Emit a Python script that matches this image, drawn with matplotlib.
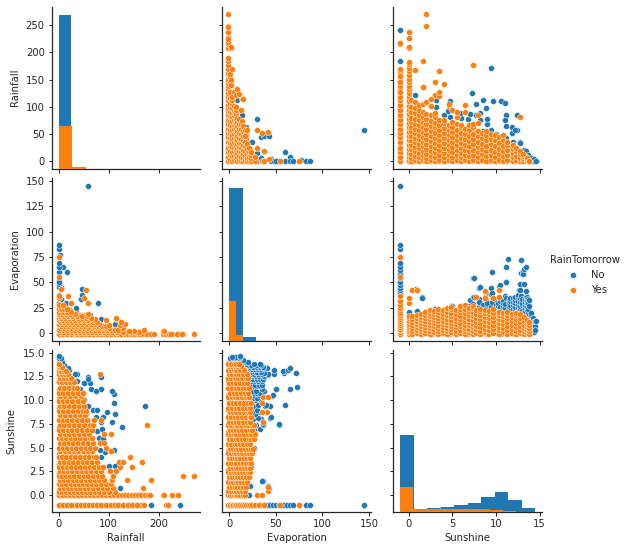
import matplotlib
matplotlib.use("Agg")
import matplotlib.pyplot as plt

BLUE = "#1f77b4"
ORANGE = "#ff7f0e"

# limits are the same for a variable in its row and its column
limits = {"Rainfall": (-13.5, 283.5), "Evaporation": (-7.25, 152.25), "Sunshine": (-1.775, 15.275)}
ticks = {
    "Rainfall": ([0, 50, 100, 150, 200, 250], [0, 100, 200]),
    "Evaporation": ([0, 25, 50, 75, 100, 125, 150], [0, 50, 100, 150]),
    "Sunshine": ([0, 2.5, 5, 7.5, 10, 12.5, 15], [0, 5, 10, 15]),
}
columns = ["Rainfall", "Evaporation", "Sunshine"]

# histogram counts (bars per class, 10 bins over the class range)
hist_range = {
    "Rainfall": {"No": (0, 241), "Yes": (0, 270)},
    "Evaporation": {"No": (0, 145), "Yes": (0, 75)},
    "Sunshine": {"No": (-1, 14.5), "Yes": (-1, 13.8)},
}
hist_no = {
    "Rainfall": [4940, 30, 0, 0, 0, 0, 0, 0, 0, 0],
    "Evaporation": [4875, 106, 0, 0, 0, 0, 0, 0, 0, 0],
    "Sunshine": [2464, 96, 128, 160, 224, 288, 480, 640, 384, 128],
}
hist_yes = {
    "Rainfall": [1355, 42, 0, 0, 0, 0, 0, 0, 0, 0],
    "Evaporation": [1258, 170, 0, 0, 0, 0, 0, 0, 0, 0],
    "Sunshine": [800, 96, 96, 96, 96, 96, 96, 75, 32, 0],
}

# Rainfall by Evaporation, rows are evaporation: rainfall values
rain_evap_yes = {
    -1: [0, 8, 16, 24, 36, 44, 52, 60, 68, 76, 84, 92, 97, 104, 112, 118, 125, 132, 138, 144, 150, 158, 162, 170,
         176, 185, 190, 208, 215, 220, 228, 238, 248, 224, 237, 246, 270],
    1: [3, 11, 19, 27, 34, 43, 51, 58, 66, 74, 83, 91, 99, 107, 116, 128, 145, 155, 160],
    2: [208, 210, 150, 140],
    3: [1, 9, 17, 26, 33, 41, 49, 57, 65, 73, 81, 89, 97, 105, 112, 118, 170],
    5: [2, 10, 18, 25, 35, 42, 50, 59, 67, 75, 84, 92, 101, 128],
    6: [71, 89],
    7: [4, 12, 20, 28, 37, 44, 53, 61, 70, 78, 86, 95],
    8: [100, 122],
    9: [0, 7, 15, 23, 31, 39, 47, 56, 64, 72, 80, 133],
    11: [3, 10, 18, 26, 34, 42, 51, 60, 69, 77, 124],
    13: [1, 8, 16, 24, 33, 41, 50, 59, 68, 94],
    14: [73, 115],
    15: [0, 5, 13, 21, 29, 38, 47, 55, 64, 114],
    17: [2, 9, 18, 27, 36, 46, 57],
    19: [0, 6, 14, 23, 32, 58],
    21: [1, 8, 16, 25],
    24: [0, 5, 11, 16],
    28: [0, 8],
    30: [24, 58],
    35: [51, 0],
    37: [18, 0],
    42: [54],
    43: [4],
    55: [0],
    75: [0],
}
rain_evap_yes_fill = {
    -1: [4, 12, 20, 28, 32, 40, 48, 56, 64, 72, 80, 88, 100, 108, 115, 122, 128, 135],
    0: [2, 6, 10, 14, 18, 22, 26, 30, 34, 38, 42, 46, 50, 54, 58, 62, 66, 70, 74, 78, 82, 86, 90, 94, 98, 102, 106,
        110, 114, 120, 125, 130],
    2: [5, 13, 21, 30, 38, 46, 54, 62, 70, 78, 86, 95, 103, 110],
    4: [1, 7, 15, 23, 31, 39, 47, 55, 63, 71, 79, 87, 94, 100],
    6: [3, 9, 16, 24, 32, 40, 48, 56, 64, 72, 80, 88],
    8: [1, 6, 13, 21, 29, 37, 45, 53, 61, 69, 77, 84],
    10: [4, 11, 19, 27, 35, 43, 51, 59, 67, 75],
    12: [1, 6, 14, 22, 30, 38, 46, 55, 63],
    14: [3, 10, 19, 28, 36, 44, 52, 60],
    16: [0, 7, 15, 24, 33, 42, 50],
    18: [4, 12, 21, 30, 40, 48],
    20: [2, 10, 19, 28],
    23: [3, 9, 14, 22],
}
rain_evap_no = {
    -1: [0, 12, 28, 45, 70, 95, 120, 150, 182, 218, 239],
    0: [50, 80, 110, 140],
    4: [0, 30, 60, 90, 112],
    9: [15, 50, 113],
    14: [5, 30, 60, 85],
    18: [10, 40, 62],
    21: [0, 20, 35],
    25: [0, 12, 35],
    30: [0, 15, 78],
    34: [44, 5],
    38: [46, 0],
    43: [46],
    45: [4, 0],
    48: [0],
    52: [0],
    60: [16, 0],
    65: [8, 0],
    69: [0],
    77: [3],
    83: [0],
    87: [0],
    145: [58],
    50: [0],
}

# Rainfall by Sunshine, rows are sunshine: rainfall values
rain_sun_yes = {
    -1: [0, 8, 16, 24, 36, 44, 52, 60, 68, 76, 84, 94, 104, 112, 118, 128, 138, 146, 158, 163, 170, 157, 215, 218],
    0: [0, 7, 15, 22, 30, 38, 46, 54, 62, 70, 78, 86, 94, 102, 110, 118, 126, 132, 139, 146, 152, 158, 165, 172,
        178, 182, 208, 210, 226, 238],
    0.3: [0, 6, 14, 22, 30, 38, 47, 55, 63, 72, 80, 90, 100, 112],
    0.7: [3, 10, 18, 26, 35, 43, 52, 60, 69, 78, 88, 97, 109, 168],
    1.2: [0, 7, 15, 24, 32, 40, 49, 57, 66, 75, 85, 94, 104],
    1.6: [2, 11, 19, 28, 36, 45, 54, 62, 72, 81, 91, 106, 137, 184],
    2: [0, 6, 14, 23, 31, 41, 50, 59, 68, 78, 87, 109, 248, 270],
    2.5: [3, 10, 19, 27, 37, 46, 55, 65, 74, 84, 102, 115],
    3: [0, 8, 16, 25, 34, 43, 52, 62, 71, 81, 88, 122, 146],
    3.5: [2, 11, 20, 29, 38, 48, 57, 66, 76, 120, 128, 166],
    4: [0, 7, 15, 24, 33, 42, 52, 61, 70, 75, 142],
    4.6: [3, 12, 21, 30, 39, 49, 58, 66, 102, 105],
    5: [0, 8, 17, 26, 35, 45, 54, 63, 72, 95],
    5.5: [2, 11, 20, 29, 39, 48, 58, 68, 82, 91],
    6: [0, 7, 15, 24, 33, 43, 52, 62, 67],
    6.4: [3, 12, 21, 30, 40, 50, 60, 91, 104],
    6.9: [0, 9, 18, 27, 37, 47, 57, 67],
    7.4: [2, 11, 21, 31, 40, 50, 62, 69, 176],
    7.9: [0, 8, 17, 26, 36, 46, 56, 71, 84],
    8.4: [3, 13, 22, 32, 42, 52],
    8.9: [0, 9, 18, 28, 38, 48, 55],
    9.4: [2, 11, 21, 31, 41, 50],
    9.9: [0, 8, 17, 27, 38, 49],
    10.4: [3, 13, 23, 33, 44],
    10.8: [0, 9, 18, 28, 38, 49],
    11.3: [2, 11, 20, 30, 36],
    11.9: [0, 7, 15, 22, 30],
    12.3: [3, 10, 18, 24],
    12.7: [0, 6, 13, 19, 82],
    13.1: [1, 5, 10, 14],
    13.5: [0, 3, 6],
    13.8: [0, 1],
}
rain_sun_yes_fill = {
    -1: [2, 5, 10, 13, 19, 21, 28, 31, 33, 39, 42, 47, 50, 55, 58, 63, 66, 71, 74, 79, 82, 88, 91, 97, 100, 107, 110,
         115, 121, 125, 130, 134, 141, 149, 154, 160, 165],
    0: [3, 11, 18, 26, 34, 42, 50, 58, 66, 74, 82, 90, 98, 106, 114],
    0.15: [4, 12, 20, 28, 36, 44, 52, 60, 68, 76, 84, 94],
    0.5: [1, 9, 17, 25, 33, 41, 50, 58, 66, 75, 84, 93],
    1: [5, 13, 21, 29, 38, 46, 55, 63, 72, 80, 90, 100],
    1.4: [4, 12, 21, 30, 38, 47, 56, 64, 73, 83],
    1.8: [6, 15, 23, 32, 40, 49, 58, 67, 76, 86],
    2.3: [1, 9, 17, 25, 34, 43, 52, 61, 70, 79],
    2.8: [5, 14, 23, 32, 41, 50, 60, 69, 78],
    3.3: [1, 9, 18, 27, 36, 45, 54, 63, 72],
    3.8: [4, 13, 22, 31, 40, 50, 59, 68],
    4.3: [0, 9, 18, 27, 36, 46, 55, 63],
    4.8: [5, 15, 24, 33, 42, 51, 60],
    5.3: [2, 11, 21, 30, 39, 49, 58],
    5.8: [6, 15, 24, 34, 44, 54],
    6.2: [2, 10, 19, 28, 38, 48, 58],
    6.7: [5, 14, 24, 34, 43, 54],
    7.2: [0, 9, 18, 28, 38, 48, 56],
    7.7: [5, 14, 23, 33, 43, 53],
    8.2: [2, 10, 19, 29, 39, 49],
    8.7: [6, 15, 25, 35, 45],
    9.2: [1, 10, 20, 30, 40, 48],
    9.7: [5, 14, 24, 34, 44],
    10.2: [1, 10, 20, 30, 40],
    10.6: [5, 14, 24, 34, 44],
    11.1: [1, 9, 18, 27, 34],
    11.6: [4, 12, 20, 27],
    12.1: [1, 8, 15, 23],
    12.5: [4, 11, 18],
    12.9: [1, 7, 13],
    13.3: [2, 5, 9],
}
rain_sun_no = {
    -1: [0, 10, 22, 40, 60, 75, 90, 110, 130, 150, 165, 184, 218, 242],
    0: [0, 30, 70, 110, 130],
    0.7: [122, 90],
    3.1: [5, 25, 50, 75, 100, 113],
    4: [84, 60],
    4.5: [93, 40],
    4.7: [111, 82, 20],
    6: [10, 35, 60, 80],
    6.8: [77, 40],
    7.2: [126, 55, 15],
    7.7: [106, 85],
    8.2: [75, 89],
    8.5: [113, 55],
    8.8: [97, 40],
    9: [0, 10, 25, 40, 52, 69, 77],
    9.4: [172, 58, 30],
    9.7: [111, 3, 15, 45],
    10: [0, 12, 25, 40, 50],
    10.6: [111, 5, 18, 32, 44],
    11.2: [84, 64, 29, 0, 10, 22, 35, 43],
    11.8: [62, 51, 4, 14, 26],
    12: [36, 29, 0, 8, 18],
    12.4: [84, 58, 3, 12, 22],
    12.7: [36, 33, 0, 6, 14],
    13.2: [15, 20, 0, 6],
    13.4: [18, 8, 3],
    13.7: [11, 4, 0],
    14: [0, 2, 6],
    14.4: [0, 1, 4],
    14.6: [0],
    11: [75, 107],
    7: [86],
    12.2: [58],
    5.9: [88],
}

# Evaporation by Sunshine, rows are sunshine: evaporation values
evap_sun_yes = {
    -1: [-1, 1, 3, 4, 6, 8, 10, 12, 14, 16, 18, 20, 23, 25, 28, 32, 37, 55, 75],
    0: [-1, 1, 3, 5, 7, 9, 12, 15, 17, 30, 35],
    0.4: [-1, 2, 5, 8, 11, 14, 17, 42],
    0.9: [0, 3, 6, 9, 12, 15, 18, 42],
    1.4: [-1, 2, 4, 7, 10, 13, 16, 19],
    1.9: [0, 3, 6, 9, 12, 15, 18, 21],
    2.4: [-1, 2, 5, 8, 11, 14, 17, 20, 23],
    2.9: [1, 4, 7, 10, 13, 16, 19, 22],
    3.4: [-1, 2, 5, 8, 12, 15, 18, 21, 24],
    3.9: [0, 3, 6, 9, 12, 16, 19, 23],
    4.4: [-1, 2, 5, 8, 11, 14, 18, 21, 25],
    4.9: [1, 4, 7, 10, 13, 17, 20, 24, 26],
    5.4: [-1, 2, 6, 9, 12, 15, 19, 23],
    5.9: [0, 3, 7, 10, 14, 17, 21, 24, 27],
    6.4: [-1, 2, 5, 8, 12, 16, 20, 24, 28],
    6.9: [1, 4, 8, 11, 14, 18, 22, 25],
    7.4: [-1, 2, 6, 9, 13, 17, 20, 25, 27],
    7.7: [0, 4, 7, 11, 15, 19, 23, 36],
    8.2: [-1, 2, 6, 10, 14, 18, 22, 24],
    8.7: [1, 4, 8, 12, 16, 20, 23, 36, 41, 35],
    9.2: [-1, 3, 7, 11, 15, 19, 22],
    9.7: [0, 4, 8, 12, 16, 20, 24, 35],
    10.3: [-1, 3, 6, 10, 14, 18, 21, 36, 42],
    10.8: [1, 5, 9, 13, 17, 20],
    11.3: [-1, 3, 7, 11, 15, 18, 21],
    11.8: [0, 4, 8, 12, 16, 19],
    12.3: [-1, 2, 6, 10, 14, 18, 20],
    12.8: [0, 3, 7, 11, 15, 19],
    13.2: [-1, 2, 5, 8, 12, 16],
    13.6: [0, 3, 6, 9, 13],
    13.8: [-1, 2, 5, 8, 11],
}
evap_sun_yes_fill = {
    -1: [0, 2, 5, 7, 9, 11, 13, 15, 17, 19, 21],
    0: [0, 2, 4, 6, 8, 10, 11, 13, 14, 16],
    0.15: [0, 3, 6, 9, 12, 15],
    0.65: [1, 4, 7, 10, 13, 16],
    1.15: [0, 3, 5, 8, 11, 14, 17],
    1.65: [1, 4, 7, 10, 13, 16, 19],
    2.15: [0, 3, 6, 9, 12, 15, 18],
    2.65: [-1, 2, 5, 8, 11, 14, 17, 20],
    3.15: [0, 3, 6, 9, 12, 15, 18],
    3.65: [1, 4, 7, 10, 14, 17, 20],
    4.15: [0, 3, 6, 9, 13, 16, 19],
    4.65: [-1, 2, 5, 9, 12, 15, 19, 22],
    5.15: [0, 3, 7, 10, 13, 17, 21],
    5.65: [1, 5, 8, 11, 15, 18, 22],
    6.15: [0, 3, 6, 10, 14, 18, 22],
    6.65: [-1, 2, 6, 9, 12, 16, 20],
    7.15: [0, 3, 7, 11, 15, 19, 23],
    7.95: [1, 5, 8, 12, 16, 20],
    8.45: [0, 3, 7, 11, 15, 19],
    8.95: [-1, 2, 6, 10, 14, 18],
    9.45: [1, 5, 9, 13, 17, 21],
    10: [0, 2, 6, 10, 15, 19],
    10.55: [-1, 3, 7, 11, 15, 18],
    11.05: [1, 5, 9, 13, 16, 19],
    11.55: [0, 2, 6, 10, 14, 17],
    12.05: [-1, 3, 7, 11, 15, 18],
    12.55: [1, 4, 8, 12, 16],
    13: [0, 3, 6, 10, 14, 17],
    13.4: [1, 4, 7, 10, 14],
}
evap_sun_no = {
    -1: [-1, 5, 15, 25, 33, 38, 40, 42, 44, 47, 50, 54, 58, 62, 65, 69, 75, 83, 87, 145],
    0: [2, 10, 18, 21],
    0.8: [43, 15],
    1: [42, 22],
    1.5: [36, 35, 18],
    3: [5, 15, 24],
    4.9: [27, 24, 15],
    5: [27, 5],
    6: [25, 12, 27],
    6.9: [27, 3],
    7: [22, 33],
    7.4: [54, 36, 29],
    7.5: [54, 36],
    8: [21, 26, 34],
    8.1: [44, 31],
    8.2: [45, 20],
    8.5: [22, 28],
    8.8: [40, 33, 25],
    9: [20, 30],
    9.4: [44, 39, 26],
    9.5: [60, 40, 22, 31],
    10: [24, 28, 34],
    10.2: [20, 23, 25, 27, 30],
    10.4: [46, 35, 21],
    10.5: [47, 22, 26, 32],
    10.8: [21, 24, 27, 30, 33],
    11: [25, 29, 37],
    11.2: [65, 50, 35, 50],
    11.5: [22, 26, 30, 33],
    11.6: [21, 24, 28, 32, 35],
    12: [24, 28, 31, 35],
    12.2: [21, 23, 26, 30, 33, 36],
    12.5: [20, 25, 29, 32, 36, 38],
    12.6: [42, 23],
    12.7: [42, 48],
    12.8: [20, 24, 27, 31, 35],
    12.9: [72, 59, 37],
    13: [22, 28, 30, 34],
    13.1: [60, 58],
    13.2: [63, 48],
    13.3: [19, 22, 25, 28, 31, 34],
    13.4: [65, 41, 36],
    13.5: [23, 26, 30, 33, 36],
    13.7: [16, 20, 24, 30, 34],
    13.8: [33, 27, 18],
    14: [0, 3, 6, 9, 12, 15, 18, 20],
    14.2: [2, 6, 9, 13, 15],
    14.3: [5, 8, 11, 7],
    14.4: [1, 4, 7, 11],
    14.5: [7, 12, 3],
    14.6: [12],
    11.4: [73],
}


def flatten(*tables):
    # tables keyed on the y value, gives xs and ys; later tables draw on top
    xs, ys = [], []
    for rows in tables:
        for row, vals in rows.items():
            for v in vals:
                xs.append(v)
                ys.append(row)
    return xs, ys


# (x variable, y variable): (values No, values Yes)
pairs = {
    ("Evaporation", "Rainfall"): (flatten(rain_evap_no), flatten(rain_evap_yes_fill, rain_evap_yes)),
    ("Sunshine", "Rainfall"): (flatten(rain_sun_no), flatten(rain_sun_yes_fill, rain_sun_yes)),
    ("Sunshine", "Evaporation"): (flatten(evap_sun_no), flatten(evap_sun_yes_fill, evap_sun_yes)),
}


def panel_data(xvar, yvar):
    if (xvar, yvar) in pairs:
        no, yes = pairs[(xvar, yvar)]
        return (no[1], no[0]), (yes[1], yes[0])
    no, yes = pairs[(yvar, xvar)]
    return no, yes


W, H = 628, 550
fig = plt.figure(figsize=(W / 72, H / 72), dpi=72)
col_px = [(51.75, 200.25), (222.25, 371.0), (393.25, 542.0)]
row_px = [(7.0, 168.5), (178.5, 340.5), (350.0, 512.0)]
text_col = "#262626"

diag_top = 4940 * 1.05

for r, yvar in enumerate(columns):
    for c, xvar in enumerate(columns):
        l, rgt = col_px[c]
        t, b = row_px[r]
        ax = fig.add_axes([l / W, 1 - b / H, (rgt - l) / W, (b - t) / H])
        ax.set_xlim(limits[xvar])
        ax.set_ylim(limits[yvar])
        ax.set_yticks(ticks[yvar][0])
        ax.set_xticks(ticks[xvar][1])
        ax.tick_params(colors=text_col, labelsize=10, length=3.5, width=1.0,
                       labelleft=c == 0, labelbottom=r == 2)
        if yvar == "Sunshine":
            ax.set_yticklabels(["0.0", "2.5", "5.0", "7.5", "10.0", "12.5", "15.0"] if c == 0 else [])
        for side in ["top", "right"]:
            ax.spines[side].set_visible(False)
        for side in ["left", "bottom"]:
            ax.spines[side].set_linewidth(1.25)
            ax.spines[side].set_color(text_col)
        if c == 0:
            ax.set_ylabel(yvar, fontsize=10, color=text_col, labelpad=6)
        if r == 2:
            ax.set_xlabel(xvar, fontsize=10, color=text_col)

        if r == c:
            # histogram sits on its own count axis, all diagonals share the scale
            tw = ax.twinx()
            tw.set_ylim(0, diag_top)
            tw.axis("off")
            for counts, key, color in ((hist_no, "No", BLUE), (hist_yes, "Yes", ORANGE)):
                lo, hi = hist_range[xvar][key]
                width = (hi - lo) / len(counts[xvar])
                edges = [lo + i * width for i in range(len(counts[xvar]))]
                tw.bar(edges, counts[xvar], width=width, align="edge", color=color, linewidth=0)
            continue

        no, yes = panel_data(xvar, yvar)
        ax.scatter(no[0], no[1], s=36, color=BLUE, edgecolor="white", linewidth=0.48, clip_on=True)
        ax.scatter(yes[0], yes[1], s=36, color=ORANGE, edgecolor="white", linewidth=0.48, clip_on=True)

handles = [
    plt.Line2D([], [], marker="o", ls="", color=BLUE, markeredgecolor="white", markeredgewidth=0.48, markersize=6),
    plt.Line2D([], [], marker="o", ls="", color=ORANGE, markeredgecolor="white", markeredgewidth=0.48, markersize=6),
]
leg = fig.legend(handles, ["No", "Yes"], title="RainTomorrow", frameon=False, fontsize=10, title_fontsize=10,
                 loc="center left", bbox_to_anchor=(541 / W, 1 - 275 / H), labelspacing=0.5, handletextpad=0.8)
for txt in leg.get_texts():
    txt.set_color(text_col)
leg.get_title().set_color(text_col)

fig.savefig("out.png", dpi=72)
